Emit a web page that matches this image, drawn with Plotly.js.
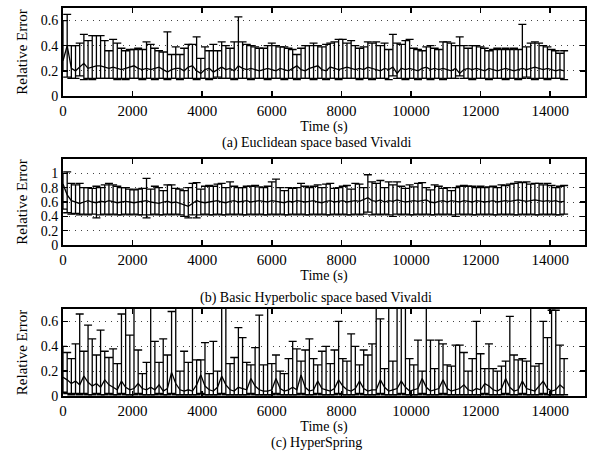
<!DOCTYPE html>
<html><head><meta charset="utf-8">
<script src="https://cdn.plot.ly/plotly-3.0.1.min.js"></script>
<style>
html,body{margin:0;padding:0;background:#fff}
#chart text{font-family:"Liberation Serif","Times New Roman",serif !important;}
</style>
</head><body>
<div id="chart" style="width:589px;height:461px"></div>
<script>
// time step of samples (s)
const timeStep = 120;
const nPoints = 121;

// (a) Euclidean space based Vivaldi
const meanA = [0.28,0.40,0.22,0.20,0.23,0.26,0.22,0.23,0.24,0.24,0.23,0.22,0.23,0.22,0.21,0.22,0.23,0.24,0.22,0.21,0.22,0.21,0.22,0.23,0.21,0.19,0.21,0.22,0.22,0.20,0.23,0.24,0.20,0.18,0.21,0.22,0.19,0.21,0.23,0.21,0.22,0.20,0.24,0.22,0.21,0.22,0.21,0.20,0.21,0.22,0.21,0.20,0.22,0.21,0.20,0.22,0.24,0.21,0.20,0.22,0.23,0.24,0.21,0.20,0.23,0.22,0.21,0.22,0.23,0.22,0.21,0.22,0.21,0.23,0.22,0.21,0.20,0.22,0.21,0.23,0.18,0.22,0.21,0.22,0.21,0.20,0.22,0.23,0.21,0.22,0.21,0.22,0.21,0.20,0.22,0.18,0.21,0.22,0.21,0.22,0.21,0.20,0.22,0.21,0.20,0.21,0.22,0.21,0.20,0.21,0.22,0.21,0.22,0.23,0.22,0.21,0.22,0.21,0.20,0.21,0.20];
const lowA = [0.20,0.15,0.14,0.14,0.16,0.13,0.14,0.13,0.14,0.14,0.14,0.14,0.14,0.13,0.14,0.13,0.14,0.14,0.14,0.13,0.14,0.14,0.13,0.14,0.14,0.13,0.14,0.14,0.13,0.14,0.14,0.14,0.13,0.14,0.14,0.13,0.14,0.15,0.14,0.14,0.14,0.13,0.14,0.14,0.14,0.13,0.14,0.14,0.14,0.13,0.14,0.14,0.14,0.13,0.14,0.14,0.13,0.14,0.14,0.14,0.13,0.14,0.14,0.13,0.14,0.14,0.13,0.14,0.14,0.14,0.14,0.13,0.14,0.14,0.13,0.14,0.14,0.14,0.13,0.16,0.14,0.14,0.13,0.14,0.14,0.13,0.14,0.14,0.13,0.14,0.14,0.13,0.14,0.14,0.14,0.16,0.14,0.14,0.13,0.14,0.14,0.14,0.13,0.14,0.14,0.14,0.13,0.14,0.14,0.13,0.14,0.15,0.14,0.13,0.14,0.14,0.13,0.14,0.14,0.14,0.13];
const highA = [0.60,0.65,0.40,0.40,0.42,0.49,0.44,0.48,0.48,0.48,0.44,0.36,0.45,0.42,0.38,0.36,0.37,0.37,0.38,0.37,0.43,0.41,0.38,0.36,0.35,0.51,0.33,0.39,0.33,0.38,0.41,0.41,0.47,0.30,0.39,0.36,0.41,0.36,0.43,0.40,0.38,0.43,0.63,0.43,0.41,0.40,0.39,0.38,0.38,0.40,0.42,0.40,0.39,0.39,0.38,0.37,0.33,0.38,0.40,0.40,0.42,0.40,0.39,0.41,0.42,0.43,0.45,0.45,0.42,0.44,0.40,0.38,0.39,0.43,0.42,0.43,0.40,0.42,0.37,0.49,0.42,0.41,0.44,0.45,0.38,0.37,0.36,0.39,0.40,0.38,0.37,0.43,0.43,0.42,0.40,0.47,0.40,0.38,0.40,0.40,0.39,0.38,0.36,0.37,0.38,0.37,0.38,0.37,0.38,0.37,0.57,0.39,0.42,0.43,0.42,0.40,0.39,0.37,0.36,0.34,0.36];

// (b) Basic Hyperbolic space based Vivaldi
const meanB = [0.85,0.70,0.62,0.60,0.58,0.60,0.62,0.60,0.59,0.61,0.60,0.62,0.61,0.59,0.60,0.61,0.60,0.59,0.60,0.61,0.62,0.60,0.59,0.58,0.60,0.61,0.59,0.60,0.58,0.56,0.54,0.58,0.62,0.60,0.59,0.60,0.61,0.62,0.60,0.59,0.61,0.62,0.60,0.61,0.62,0.60,0.61,0.62,0.61,0.60,0.62,0.61,0.60,0.59,0.61,0.60,0.62,0.61,0.60,0.61,0.62,0.60,0.59,0.61,0.62,0.60,0.61,0.62,0.60,0.61,0.62,0.61,0.63,0.66,0.62,0.61,0.63,0.60,0.62,0.61,0.63,0.62,0.60,0.61,0.62,0.61,0.62,0.63,0.60,0.59,0.61,0.62,0.60,0.62,0.61,0.60,0.62,0.61,0.60,0.62,0.61,0.60,0.61,0.62,0.60,0.61,0.62,0.61,0.62,0.63,0.62,0.61,0.62,0.63,0.62,0.61,0.62,0.61,0.62,0.60,0.61];
const lowB = [0.50,0.45,0.43,0.44,0.42,0.43,0.42,0.43,0.38,0.42,0.43,0.42,0.43,0.42,0.42,0.43,0.42,0.43,0.42,0.42,0.38,0.42,0.43,0.42,0.42,0.43,0.42,0.43,0.42,0.40,0.38,0.42,0.38,0.42,0.43,0.42,0.42,0.43,0.42,0.42,0.43,0.42,0.43,0.42,0.42,0.43,0.42,0.43,0.42,0.42,0.43,0.42,0.43,0.42,0.42,0.43,0.42,0.43,0.42,0.42,0.43,0.42,0.43,0.42,0.42,0.43,0.42,0.43,0.42,0.42,0.43,0.42,0.43,0.46,0.42,0.43,0.42,0.43,0.42,0.40,0.43,0.42,0.43,0.42,0.42,0.43,0.42,0.43,0.42,0.42,0.43,0.42,0.43,0.42,0.40,0.43,0.42,0.43,0.42,0.42,0.43,0.42,0.43,0.42,0.42,0.43,0.42,0.43,0.42,0.42,0.43,0.42,0.43,0.42,0.42,0.43,0.42,0.43,0.42,0.42,0.43];
const highB = [1.00,1.02,0.86,0.84,0.86,0.80,0.80,0.79,0.82,0.80,0.84,0.86,0.84,0.82,0.80,0.80,0.78,0.77,0.78,0.79,0.93,0.78,0.82,0.80,0.76,0.84,0.84,0.79,0.78,0.76,0.80,0.86,0.87,0.78,0.82,0.83,0.82,0.85,0.86,0.80,0.88,0.82,0.80,0.80,0.82,0.82,0.83,0.81,0.80,0.82,0.88,0.92,0.80,0.76,0.80,0.79,0.80,0.86,0.82,0.80,0.82,0.84,0.80,0.85,0.86,0.79,0.80,0.82,0.83,0.78,0.86,0.85,0.80,0.98,0.88,0.86,0.90,0.80,0.88,0.84,0.88,0.82,0.79,0.84,0.81,0.86,0.87,0.80,0.77,0.84,0.82,0.79,0.80,0.76,0.80,0.82,0.83,0.82,0.82,0.80,0.82,0.80,0.81,0.82,0.80,0.84,0.83,0.85,0.86,0.88,0.87,0.88,0.85,0.86,0.86,0.84,0.86,0.83,0.80,0.82,0.83];

// (c) HyperSpring
const meanC = [0.15,0.13,0.10,0.12,0.09,0.16,0.11,0.08,0.10,0.07,0.13,0.09,0.07,0.05,0.12,0.07,0.05,0.06,0.10,0.06,0.05,0.07,0.05,0.09,0.04,0.06,0.19,0.10,0.05,0.04,0.05,0.04,0.09,0.17,0.08,0.05,0.04,0.07,0.16,0.09,0.05,0.04,0.07,0.06,0.05,0.14,0.08,0.05,0.04,0.04,0.05,0.14,0.06,0.04,0.05,0.07,0.05,0.17,0.07,0.04,0.05,0.12,0.06,0.05,0.04,0.06,0.13,0.08,0.05,0.04,0.06,0.12,0.06,0.04,0.05,0.05,0.13,0.07,0.04,0.05,0.06,0.12,0.07,0.04,0.05,0.06,0.14,0.07,0.04,0.05,0.06,0.13,0.06,0.04,0.05,0.06,0.09,0.05,0.04,0.06,0.05,0.10,0.08,0.05,0.04,0.06,0.14,0.07,0.04,0.05,0.12,0.06,0.05,0.04,0.08,0.12,0.06,0.04,0.05,0.09,0.06];
const lowC = [0.03,0.02,0.01,0.02,0.01,0.02,0.01,0.01,0.02,0.01,0.01,0.02,0.01,0.01,0.02,0.01,0.01,0.01,0.02,0.01,0.01,0.01,0.01,0.02,0.01,0.01,0.02,0.01,0.01,0.01,0.01,0.01,0.01,0.02,0.01,0.01,0.01,0.01,0.02,0.01,0.01,0.01,0.01,0.01,0.01,0.02,0.01,0.01,0.01,0.01,0.01,0.02,0.01,0.01,0.01,0.01,0.01,0.02,0.01,0.01,0.01,0.02,0.01,0.01,0.01,0.01,0.02,0.01,0.01,0.01,0.01,0.02,0.01,0.01,0.01,0.01,0.02,0.01,0.01,0.01,0.01,0.02,0.01,0.01,0.01,0.01,0.02,0.01,0.01,0.01,0.01,0.02,0.01,0.01,0.01,0.01,0.01,0.01,0.01,0.01,0.01,0.02,0.01,0.01,0.01,0.01,0.02,0.01,0.01,0.01,0.02,0.01,0.01,0.01,0.01,0.02,0.01,0.01,0.01,0.01,0.01];
const highC = [0.40,0.35,0.30,0.42,0.66,0.36,0.57,0.46,0.33,0.53,0.36,0.31,0.38,0.26,0.66,0.90,0.49,0.90,0.37,0.18,0.27,0.90,0.44,0.27,0.46,0.33,0.68,0.90,0.20,0.36,0.27,0.90,0.29,0.29,0.43,0.18,0.44,0.20,0.90,0.90,0.26,0.31,0.55,0.47,0.27,0.25,0.39,0.65,0.25,0.90,0.26,0.33,0.20,0.18,0.30,0.44,0.38,0.28,0.37,0.46,0.30,0.25,0.36,0.40,0.26,0.37,0.60,0.30,0.28,0.50,0.40,0.25,0.37,0.33,0.42,0.90,0.62,0.22,0.90,0.28,0.90,0.90,0.90,0.30,0.25,0.45,0.20,0.90,0.45,0.22,0.45,0.42,0.25,0.24,0.41,0.41,0.35,0.20,0.30,0.60,0.34,0.22,0.42,0.22,0.20,0.24,0.28,0.64,0.33,0.29,0.30,0.28,0.90,0.24,0.26,0.60,0.47,0.69,0.69,0.41,0.30];

const xTickVals = [0,2000,4000,6000,8000,10000,12000,14000];
const captions = ['(a) Euclidean space based Vivaldi','(b) Basic Hyperbolic space based Vivaldi','(c) HyperSpring'];

const times = [];
for (let i = 0; i < nPoints; i++) times.push(i * timeStep);

const FONT = 'Liberation Serif';

function trace(mean, low, high, xa, ya) {
  return {
    x: times, y: mean, xaxis: xa, yaxis: ya,
    type: 'scatter', mode: 'lines',
    line: {color: '#000', width: 1.3},
    error_y: {
      type: 'data', symmetric: false,
      array: high.map((h, i) => h - mean[i]),
      arrayminus: low.map((l, i) => mean[i] - l),
      color: '#000', thickness: 1.3, width: 4
    },
    showlegend: false, hoverinfo: 'skip'
  };
}

const data = [
  trace(meanA, lowA, highA, 'x', 'y'),
  trace(meanB, lowB, highB, 'x2', 'y2'),
  trace(meanC, lowC, highC, 'x3', 'y3')
];

function xaxis(anchor) {
  return {
    anchor: anchor, domain: [0, 1], range: [0, 15000],
    tickvals: xTickVals, ticktext: xTickVals.map(String),
    ticks: 'inside', ticklen: 5, tickwidth: 1.5, tickcolor: '#000',
    showline: true, linecolor: '#000', linewidth: 2, mirror: 'ticks',
    showgrid: false, zeroline: false,
    tickfont: {family: FONT, size: 15, color: '#000'},
    title: {text: 'Time (s)', font: {family: FONT, size: 14, color: '#000'}, standoff: 1}
  };
}
function yaxis(anchor, domain, range, tv, tt) {
  return {
    anchor: anchor, domain: domain, range: range,
    tickvals: tv, ticktext: tt,
    ticks: 'inside', ticklen: 5, tickwidth: 1.5, tickcolor: '#000',
    showline: true, linecolor: '#000', linewidth: 2, mirror: 'ticks',
    showgrid: true, gridcolor: '#444', griddash: '1px,5px', gridwidth: 1,
    zeroline: false,
    tickfont: {family: FONT, size: 14, color: '#000'},
    title: {text: 'Relative Error', font: {family: FONT, size: 15, color: '#000'}, standoff: 9}
  };
}

const layout = {
  width: 589, height: 461,
  margin: {l: 63, r: 4, t: 0, b: 0},
  paper_bgcolor: '#fff', plot_bgcolor: '#fff',
  font: {family: FONT, color: '#000'},
  xaxis: xaxis('y'), xaxis2: xaxis('y2'), xaxis3: xaxis('y3'),
  yaxis: yaxis('x', [0.7918, 0.9826], [0, 0.7], [0, 0.2, 0.4, 0.6], ['0', '0.2', '0.4', '0.6']),
  yaxis2: yaxis('x2', [0.4685, 0.6551], [0, 1.2], [0, 0.2, 0.4, 0.6, 0.8, 1], ['0', '0.2', '0.4', '0.6', '0.8', '1']),
  yaxis3: yaxis('x3', [0.1410, 0.3297], [0, 0.7], [0, 0.2, 0.4, 0.6], ['0', '0.2', '0.4', '0.6']),
  annotations: [
    {text: captions[0], xref: 'paper', yref: 'paper', x: 0.485, y: 0.690, yanchor: 'middle', showarrow: false, font: {family: FONT, size: 14, color: '#000'}},
    {text: captions[1], xref: 'paper', yref: 'paper', x: 0.485, y: 0.354, yanchor: 'middle', showarrow: false, font: {family: FONT, size: 14, color: '#000'}},
    {text: captions[2], xref: 'paper', yref: 'paper', x: 0.485, y: 0.039, yanchor: 'middle', showarrow: false, font: {family: FONT, size: 14, color: '#000'}}
  ]
};

Plotly.newPlot('chart', data, layout, {displayModeBar: false, staticPlot: true});
</script>
</body></html>
